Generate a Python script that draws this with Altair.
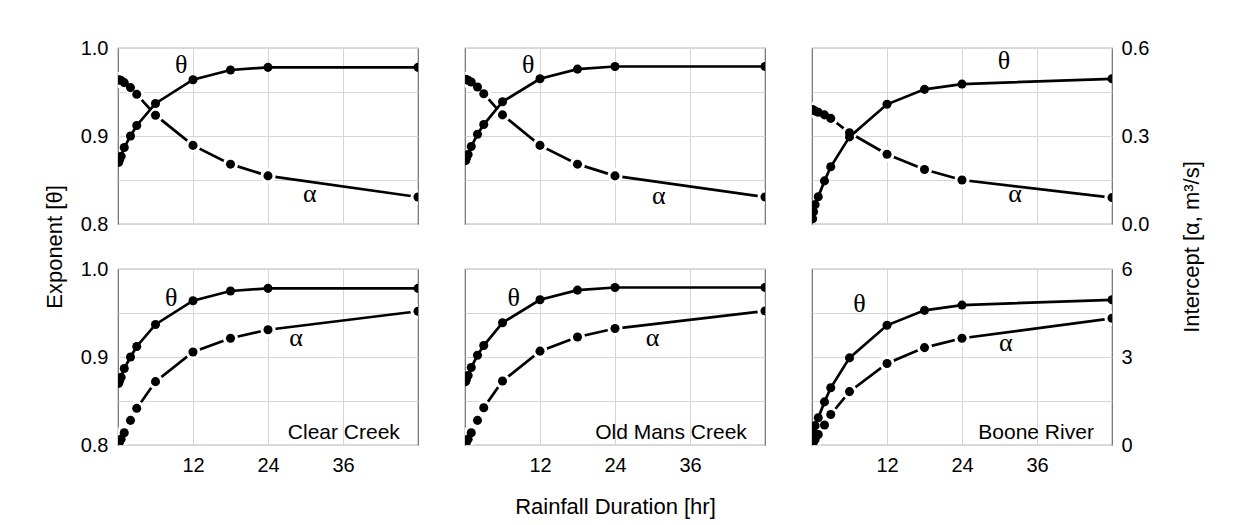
import altair as alt
import pandas as pd

# ---------------- data ----------------
durations = [0.1, 0.25, 0.5, 1, 2, 3, 6, 12, 18, 24, 48]
sites = ["Clear Creek", "Old Mans Creek", "Boone River"]

theta_clear = [0.870, 0.873, 0.877, 0.887, 0.900, 0.912, 0.937, 0.964, 0.975, 0.978, 0.978]
theta_oldmans = [0.872, 0.875, 0.879, 0.888, 0.902, 0.913, 0.939, 0.965, 0.976, 0.979, 0.979]
theta_boone = [0.806, 0.814, 0.822, 0.831, 0.849, 0.865, 0.899, 0.936, 0.953, 0.959, 0.965]

alpha_top_clear = [0.492, 0.491, 0.489, 0.482, 0.465, 0.442, 0.371, 0.268, 0.204, 0.164, 0.092]
alpha_top_oldmans = [0.493, 0.492, 0.490, 0.484, 0.467, 0.444, 0.372, 0.268, 0.204, 0.164, 0.092]
alpha_top_boone = [0.390, 0.388, 0.385, 0.381, 0.372, 0.360, 0.311, 0.238, 0.186, 0.150, 0.090]

alpha_bot_clear = [0.04, 0.10, 0.20, 0.42, 0.84, 1.25, 2.16, 3.17, 3.64, 3.93, 4.56]
alpha_bot_oldmans = [0.04, 0.10, 0.20, 0.42, 0.84, 1.27, 2.18, 3.20, 3.68, 3.97, 4.57]
alpha_bot_boone = [0.02, 0.10, 0.19, 0.36, 0.68, 1.04, 1.82, 2.78, 3.32, 3.64, 4.32]

thetas = [theta_clear, theta_oldmans, theta_boone]
alpha_top = [alpha_top_clear, alpha_top_oldmans, alpha_top_boone]
alpha_bot = [alpha_bot_clear, alpha_bot_oldmans, alpha_bot_boone]

# label positions for the Greek letters (duration, exponent-scale value)
theta_lbl_top = [(10.1, 0.981), (10.1, 0.981), (30.7, 0.985)]
alpha_lbl_top = [(30.7, 0.834), (31.0, 0.832), (32.5, 0.834)]
theta_lbl_bot = [(8.5, 0.967), (7.8, 0.967), (7.6, 0.960)]
alpha_lbl_bot = [(28.5, 0.9216), (30.0, 0.9216), (31.0, 0.916)]

FONT = "Liberation Sans"
SERIF = "Liberation Serif"
W, H = 300, 176


def make_panel(i, row):
    th = thetas[i]
    al = alpha_top[i] if row == 0 else alpha_bot[i]
    df = pd.DataFrame({"t": durations, "theta": th, "alpha": al})
    adom = [0, 0.6] if row == 0 else [0, 6]

    if row == 0:
        xaxis = alt.Axis(values=[12, 24, 36], labels=False, ticks=False, domain=False,
                         grid=True, gridColor="#d6d6d6", title=None)
    else:
        xkw = dict(values=[12, 24, 36], ticks=False, domain=False, grid=True,
                   gridColor="#d6d6d6", labelFontSize=20, labelPadding=10,
                   labelFont=FONT, labelColor="black")
        if i == 1:
            xaxis = alt.Axis(title="Rainfall Duration [hr]", titleFontSize=22,
                             titleFont=FONT, titleFontWeight="normal", titleColor="black",
                             titleX=150, titleY=61, titleBaseline="middle", **xkw)
        else:
            xaxis = alt.Axis(title=None, **xkw)

    x = alt.X("t:Q", scale=alt.Scale(domain=[0, 48], nice=False, zero=False), axis=xaxis)
    tscale = alt.Scale(domain=[0.8, 1.0], nice=False, zero=False)
    ascale = alt.Scale(domain=adom, nice=False, zero=False)

    tkw = dict(values=[0.8, 0.85, 0.9, 0.95, 1.0], grid=True, gridColor="#d6d6d6",
               ticks=False, domain=False, labels=(i == 0), labelFlush=False,
               labelOverlap=False, labelFontSize=20, labelPadding=10, labelFont=FONT,
               labelColor="black",
               labelExpr="abs(datum.value*10 - round(datum.value*10)) < 0.001 ? format(datum.value, '.1f') : ''")
    if i == 0 and row == 0:
        theta_axis = alt.Axis(title="Exponent [θ]", titleFontSize=22, titleFont=FONT,
                              titleFontWeight="normal", titleColor="black",
                              titleAngle=270, titleX=-64, titleY=198.5,
                              titleAlign="center", titleBaseline="middle", **tkw)
    else:
        theta_axis = alt.Axis(title=None, **tkw)

    if i == 2:
        akw = dict(orient="right", values=[adom[0], adom[1] / 2, adom[1]], grid=False,
                   ticks=False, domain=False, labelFlush=False, labelOverlap=False,
                   labelFontSize=20, labelPadding=9, labelFont=FONT, labelColor="black",
                   format=".1f" if row == 0 else "d")
        if row == 0:
            alpha_axis = alt.Axis(title="Intercept [α, m³/s]", titleFontSize=22,
                                  titleFont=FONT, titleFontWeight="normal",
                                  titleColor="black", titleAngle=270, titleX=79,
                                  titleY=198.5, titleAlign="center",
                                  titleBaseline="middle", **akw)
        else:
            alpha_axis = alt.Axis(title=None, **akw)
    else:
        alpha_axis = None

    base = alt.Chart(df)
    y_th = alt.Y("theta:Q", scale=tscale, axis=theta_axis)
    y_th_n = alt.Y("theta:Q", scale=tscale, axis=None)
    y_al = alt.Y("alpha:Q", scale=ascale, axis=alpha_axis)
    y_al_n = alt.Y("alpha:Q", scale=ascale, axis=None)

    grid_layer = base.mark_line(opacity=0, clip=True).encode(x=x, y=y_th)
    al_line = base.mark_line(color="black", strokeWidth=2.7, clip=True).encode(x=x, y=y_al)
    al_halo = base.mark_point(filled=True, color="white", size=230, opacity=1,
                              clip=True).encode(x=x, y=y_al_n)
    th_line = base.mark_line(color="black", strokeWidth=2.7, clip=True).encode(x=x, y=y_th_n)
    th_pts = base.mark_point(filled=True, color="black", size=82, opacity=1,
                             clip=True).encode(x=x, y=y_th_n)
    al_pts = base.mark_point(filled=True, color="black", size=82, opacity=1,
                             clip=True).encode(x=x, y=y_al_n)

    tl = theta_lbl_top[i] if row == 0 else theta_lbl_bot[i]
    alb = alpha_lbl_top[i] if row == 0 else alpha_lbl_bot[i]
    ann = pd.DataFrame({"t": [tl[0], alb[0]], "v": [tl[1], alb[1]], "label": ["θ", "α"]})
    greek = alt.Chart(ann).mark_text(font=SERIF, fontSize=26, color="black",
                                     align="center", baseline="middle").encode(
        x=x, y=alt.Y("v:Q", scale=tscale, axis=None), text="label:N")

    layers = [grid_layer, al_line, al_halo, th_line, th_pts, al_pts, greek]
    if row == 1:
        sdf = pd.DataFrame({"t": [45.1], "v": [0.8136], "label": [sites[i]]})
        site_txt = alt.Chart(sdf).mark_text(font=FONT, fontSize=21, color="black",
                                            align="right", baseline="middle").encode(
            x=x, y=alt.Y("v:Q", scale=tscale, axis=None), text="label:N")
        layers.append(site_txt)

    return alt.layer(*layers).resolve_scale(y="independent").properties(width=W, height=H)


panels = [make_panel(i, 0) for i in range(3)] + [make_panel(i, 1) for i in range(3)]

chart = alt.concat(*panels, columns=3, spacing={"row": 45, "column": 47},
                   bounds="flush").properties(
    padding={"left": 42, "top": 37, "right": 5, "bottom": 5},
    background="white",
).configure_view(stroke="#6e6e6e", strokeWidth=1.2).configure_axis(
    labelFont=FONT, titleFont=FONT
)

chart.save("out.html", embed_options={"renderer": "svg", "actions": False})
